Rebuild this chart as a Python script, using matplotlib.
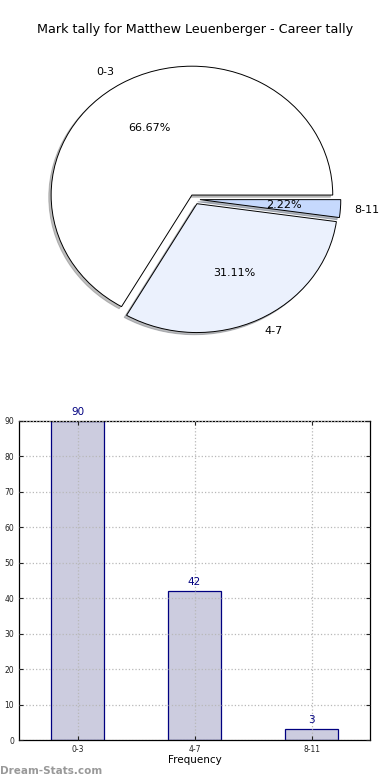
import matplotlib.pyplot as plt

categories = ['0-3', '4-7', '8-11']
counts = [90, 42, 3]
pie_colors = ['#ffffff', '#ebf1fd', '#c6d9fd']
title = 'Mark tally for Matthew Leuenberger - Career tally'

fig = plt.figure(figsize=(3.9, 7.8), dpi=100)

# pie of the mark tally (old style: not forced round)
ax_pie = fig.add_axes([0.0477, 0.538, 0.9026, 0.413])
wedges, texts, autotexts = ax_pie.pie(counts, labels=categories, colors=pie_colors,
                                      explode=(0.038, 0.038, 0.038),
                                      shadow={'ox': -0.012, 'oy': -0.012, 'shade': 0.5},
                                      autopct='%.2f%%', startangle=0, counterclock=True,
                                      wedgeprops=dict(edgecolor='black', linewidth=0.7),
                                      textprops=dict(fontsize=8))
ax_pie.set_aspect('auto')
fig.text(0.5, 1 - 30 / 780, title, ha='center', va='center', fontsize=9.2)

# bar chart of the same counts
ax_bar = fig.add_axes([19 / 390, 40 / 780, 351 / 390, 319 / 780])
x = range(len(categories))
bars = ax_bar.bar(x, counts, width=0.45, color='#ccccdf', edgecolor='#000080',
                  linewidth=0.9, zorder=1)
for xi, c in zip(x, counts):
    ax_bar.text(xi, c + 1.2, str(c), ha='center', va='bottom', fontsize=7.5, color='#000080')
ax_bar.set_xlim(-0.5, 2.5)
ax_bar.set_ylim(0, 90)
ax_bar.set_xticks(list(x))
ax_bar.set_xticklabels(categories)
ax_bar.set_yticks(range(0, 91, 10))
ax_bar.tick_params(labelsize=5.5, direction='in', length=3, top=True, right=True,
                   colors='#222222')
ax_bar.grid(True, linestyle=':', color='#b8b8b8', linewidth=0.9, zorder=3)
ax_bar.set_axisbelow(False)
ax_bar.set_xlabel('Frequency', fontsize=7.5, labelpad=1)
for sp in ax_bar.spines.values():
    sp.set_linewidth(0.9)

fig.text(0.0, 1 - 771 / 780, 'Dream-Stats.com', ha='left', va='center', fontsize=7.5,
         color='#999999', fontweight='bold')

fig.savefig('out.png', dpi=100)
